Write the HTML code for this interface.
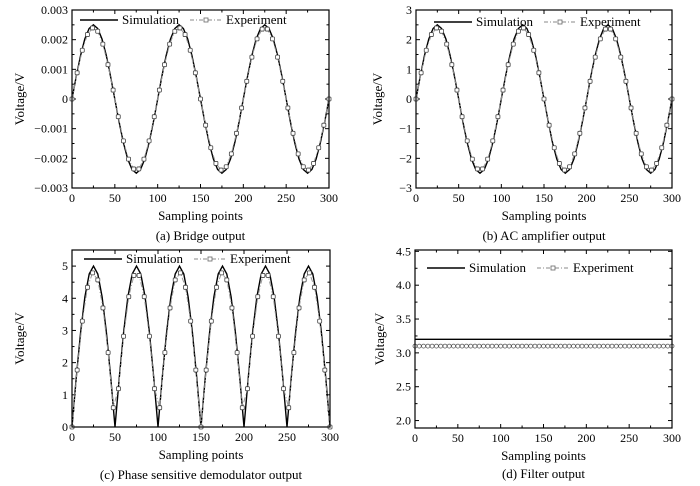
<!DOCTYPE html>
<html><head><meta charset="utf-8"><style>
body{margin:0;background:#fff;}
svg{display:block;font-family:"Liberation Serif",serif;}
</style></head><body>
<svg id="c" width="700" height="486"></svg>
<script>
const simX5 = [0,5,10,15,20,25,30,35,40,45,50,55,60,65,70,75,80,85,90,95,100,105,110,115,120,125,130,135,140,145,150,155,160,165,170,175,180,185,190,195,200,205,210,215,220,225,230,235,240,245,250,255,260,265,270,275,280,285,290,295,300];
const simAC = [0,0.773,1.469,2.023,2.378,2.5,2.378,2.023,1.469,0.773,0,-0.773,-1.469,-2.023,-2.378,-2.5,-2.378,-2.023,-1.469,-0.773,0,0.773,1.469,2.023,2.378,2.5,2.378,2.023,1.469,0.773,0,-0.773,-1.469,-2.023,-2.378,-2.5,-2.378,-2.023,-1.469,-0.773,0,0.773,1.469,2.023,2.378,2.5,2.378,2.023,1.469,0.773,0,-0.773,-1.469,-2.023,-2.378,-2.5,-2.378,-2.023,-1.469,-0.773,0];
const simBridge = [0,0.000773,0.001469,0.002023,0.002378,0.0025,0.002378,0.002023,0.001469,0.000773,0,-0.000773,-0.001469,-0.002023,-0.002378,-0.0025,-0.002378,-0.002023,-0.001469,-0.000773,0,0.000773,0.001469,0.002023,0.002378,0.0025,0.002378,0.002023,0.001469,0.000773,0,-0.000773,-0.001469,-0.002023,-0.002378,-0.0025,-0.002378,-0.002023,-0.001469,-0.000773,0,0.000773,0.001469,0.002023,0.002378,0.0025,0.002378,0.002023,0.001469,0.000773,0,-0.000773,-0.001469,-0.002023,-0.002378,-0.0025,-0.002378,-0.002023,-0.001469,-0.000773,0];
const simPSD = [0,1.545,2.939,4.045,4.755,5,4.755,4.045,2.939,1.545,0,1.545,2.939,4.045,4.755,5,4.755,4.045,2.939,1.545,0,1.545,2.939,4.045,4.755,5,4.755,4.045,2.939,1.545,0,1.545,2.939,4.045,4.755,5,4.755,4.045,2.939,1.545,0,1.545,2.939,4.045,4.755,5,4.755,4.045,2.939,1.545,0,1.545,2.939,4.045,4.755,5,4.755,4.045,2.939,1.545,0];
const simFilter = [3.2,3.2,3.2,3.2,3.2,3.2,3.2,3.2,3.2,3.2,3.2,3.2,3.2,3.2,3.2,3.2,3.2,3.2,3.2,3.2,3.2,3.2,3.2,3.2,3.2,3.2,3.2,3.2,3.2,3.2,3.2,3.2,3.2,3.2,3.2,3.2,3.2,3.2,3.2,3.2,3.2,3.2,3.2,3.2,3.2,3.2,3.2,3.2,3.2,3.2,3.2,3.2,3.2,3.2,3.2,3.2,3.2,3.2,3.2,3.2,3.2];
const expX6 = [0,6,12,18,24,30,36,42,48,54,60,66,72,78,84,90,96,102,108,114,120,126,132,138,144,150,156,162,168,174,180,186,192,198,204,210,216,222,228,234,240,246,252,258,264,270,276,282,288,294,300];
const expAC = [0,0.883,1.643,2.172,2.395,2.283,1.850,1.156,0.301,-0.597,-1.411,-2.026,-2.357,-2.357,-2.026,-1.411,-0.597,0.301,1.156,1.850,2.283,2.395,2.172,1.643,0.883,0,-0.883,-1.643,-2.172,-2.395,-2.283,-1.850,-1.156,-0.301,0.597,1.411,2.026,2.357,2.357,2.026,1.411,0.597,-0.301,-1.156,-1.850,-2.283,-2.395,-2.172,-1.643,-0.883,0];
const expBridge = [0,0.000883,0.001643,0.002172,0.002395,0.002283,0.00185,0.001156,0.000301,-0.000597,-0.001411,-0.002026,-0.002357,-0.002357,-0.002026,-0.001411,-0.000597,0.000301,0.001156,0.00185,0.002283,0.002395,0.002172,0.001643,0.000883,0,-0.000883,-0.001643,-0.002172,-0.002395,-0.002283,-0.00185,-0.001156,-0.000301,0.000597,0.001411,0.002026,0.002357,0.002357,0.002026,0.001411,0.000597,-0.000301,-0.001156,-0.00185,-0.002283,-0.002395,-0.002172,-0.001643,-0.000883,0];
const expPSD = [0,1.77,3.29,4.34,4.79,4.57,3.70,2.31,0.60,1.19,2.82,4.05,4.71,4.71,4.05,2.82,1.19,0.60,2.31,3.70,4.57,4.79,4.34,3.29,1.77,0,1.77,3.29,4.34,4.79,4.57,3.70,2.31,0.60,1.19,2.82,4.05,4.71,4.71,4.05,2.82,1.19,0.60,2.31,3.70,4.57,4.79,4.34,3.29,1.77,0];
const expFilter = [3.1,3.1,3.1,3.1,3.1,3.1,3.1,3.1,3.1,3.1,3.1,3.1,3.1,3.1,3.1,3.1,3.1,3.1,3.1,3.1,3.1,3.1,3.1,3.1,3.1,3.1,3.1,3.1,3.1,3.1,3.1,3.1,3.1,3.1,3.1,3.1,3.1,3.1,3.1,3.1,3.1,3.1,3.1,3.1,3.1,3.1,3.1,3.1,3.1,3.1,3.1,3.1,3.1,3.1,3.1,3.1,3.1,3.1,3.1,3.1,3.1];
const xTicks = [0,50,100,150,200,250,300];
const yTicksA = [-0.003,-0.002,-0.001,0,0.001,0.002,0.003];
const yLabelsA = ["−0.003","−0.002","−0.001","0","0.001","0.002","0.003"];
const yTicksB = [-3,-2,-1,0,1,2,3];
const yLabelsB = ["−3","−2","−1","0","1","2","3"];
const yTicksC = [0,1,2,3,4,5];
const yLabelsC = ["0","1","2","3","4","5"];
const yTicksD = [2.0,2.5,3.0,3.5,4.0,4.5];
const yLabelsD = ["2.0","2.5","3.0","3.5","4.0","4.5"];

const NS="http://www.w3.org/2000/svg";
const svg=document.getElementById('c');
function mk(tag,attrs,parent){const e=document.createElementNS(NS,tag);for(const k in attrs)e.setAttribute(k,attrs[k]);(parent||svg).appendChild(e);return e;}

function panel(p){
  const g=mk('g',{});
  
  
  const sx=v=>p.L+(v-0)/300*(p.R-p.L);
  const sy=v=>p.B-(v-p.y0)/(p.y1-p.y0)*(p.B-p.T);
  const yStep=p.yt[1]-p.yt[0];
  for(let i=0;i<=12;i++){
    const v=i*25,x=sx(v),len=(i%2==0)?4:2.5;
    const t1=mk('line',{x1:x,x2:x,y1:p.B,y2:p.B-len,stroke:'#000','stroke-width':1},g);
    
    
    mk('line',{x1:x,x2:x,y1:p.T,y2:p.T+len,stroke:'#000','stroke-width':1},g);
  }
  for(let i=0;i<p.yt.length;i++){
    for(const f of [0,0.5]){
      const v=p.yt[i]+f*yStep; if(v>p.y1+1e-9) continue;
      const y=sy(v),len=f==0?4:2.5;
      mk('line',{x1:p.L,x2:p.L+len,y1:y,y2:y,stroke:'#000','stroke-width':1},g);
      mk('line',{x1:p.R,x2:p.R-len,y1:y,y2:y,stroke:'#000','stroke-width':1},g);
    }
    if(i==0&&p.yt[0]-0.5*yStep>=p.y0){const y=sy(p.yt[0]-0.5*yStep);mk('line',{x1:p.L,x2:p.L+2.5,y1:y,y2:y,stroke:'#000'},g);mk('line',{x1:p.R,x2:p.R-2.5,y1:y,y2:y,stroke:'#000'},g);}
    const t=mk('text',{x:p.L-4,y:sy(p.yt[i])+4,'text-anchor':'end','font-size':12},g);
    t.textContent=p.yl[i];
    
    
  }
  xTicks.forEach(v=>{
    const t=mk('text',{x:sx(v),y:p.B+14,'text-anchor':'middle','font-size':12},g);
    t.textContent=v;
    
    
  });
  let d='';p.sx.forEach((x,i)=>{d+=(i?'L':'M')+sx(x).toFixed(1)+' '+sy(p.sim[i]).toFixed(1);});
  const sim=mk('path',{d:d,fill:'none',stroke:'#000','stroke-width':1.4},g);
  
  
  let d2='';p.ex.forEach((x,i)=>{d2+=(i?'L':'M')+sx(x).toFixed(1)+' '+sy(p.exp[i]).toFixed(1);});
  const el=mk('path',{d:d2,fill:'none',stroke:'#999','stroke-width':1,'stroke-dasharray':'5 2 1 2'},g);
  
  
  p.ex.forEach((x,i)=>{
    let m;
    if(p.circ) m=mk('circle',{cx:sx(x),cy:sy(p.exp[i]),r:2,fill:'#fff',stroke:'#555','stroke-width':0.8},g);
    else m=mk('rect',{x:sx(x)-2,y:sy(p.exp[i])-2,width:4,height:4,rx:1,fill:'#fff',stroke:'#444','stroke-width':0.8},g);
    
    
  });
  const fr=mk('rect',{x:p.L,y:p.T,width:p.R-p.L,height:p.B-p.T,fill:'none',stroke:'#000','stroke-width':1.2},g);
  
  
  const lg=mk('g',{},g);
  
  
  const ly=p.T+p.ly;
  mk('line',{x1:p.L+p.lx,x2:p.L+p.lx+38,y1:ly,y2:ly,stroke:'#000','stroke-width':1.4},lg);
  const t1=mk('text',{x:p.L+p.lx+42,y:ly+4,'font-size':13},lg);t1.textContent='Simulation';
  const ex0=p.L+p.lx+110;
  mk('line',{x1:ex0,x2:ex0+32,y1:ly,y2:ly,stroke:'#888','stroke-dasharray':'4 2 1 2'},lg);
  mk('rect',{x:ex0+14,y:ly-2,width:4,height:4,fill:'#fff',stroke:'#666','stroke-width':0.8},lg);
  const t2=mk('text',{x:ex0+36,y:ly+4,'font-size':13},lg);t2.textContent='Experiment';
  const yl=mk('text',{x:0,y:0,'font-size':13,'text-anchor':'middle',transform:`translate(${p.yx},${(p.T+p.B)/2}) rotate(-90)`},g);
  yl.textContent='Voltage/V';
  
  
  const xl=mk('text',{x:(p.L+p.R)/2,y:p.B+32,'font-size':13,'text-anchor':'middle'},g);
  xl.textContent='Sampling points';
  
  
  const cp=mk('text',{x:(p.L+p.R)/2,y:p.B+p.cy,'font-size':13,'text-anchor':'middle'},g);
  cp.textContent=p.cap;
  
  
}
panel({name:'panel-bridge-output',L:72,R:329,T:10,B:188,y0:-0.003,y1:0.003,yt:yTicksA,yl:yLabelsA,sx:simX5,sim:simBridge,ex:expX6,exp:expBridge,lx:8,ly:10,yx:24,cap:'(a) Bridge output',cy:52});
panel({name:'panel-ac-amplifier-output',L:416,R:672,T:10,B:188,y0:-3,y1:3,yt:yTicksB,yl:yLabelsB,sx:simX5,sim:simAC,ex:expX6,exp:expAC,lx:18,ly:12,yx:382,cap:'(b) AC amplifier output',cy:52});
panel({name:'panel-phase-sensitive-demodulator-output',L:72,R:330,T:250,B:427,y0:0,y1:5.5,yt:yTicksC,yl:yLabelsC,sx:simX5,sim:simPSD,ex:expX6,exp:expPSD,lx:12,ly:9,yx:24,cap:'(c) Phase sensitive demodulator output',cy:52});
panel({name:'panel-filter-output',L:415,R:672,T:250,B:428,y0:1.89,y1:4.52,yt:yTicksD,yl:yLabelsD,sx:simX5,sim:simFilter,ex:simX5,exp:expFilter,circ:true,lx:12,ly:18,yx:384,cap:'(d) Filter output',cy:50});
</script>
</body></html>
